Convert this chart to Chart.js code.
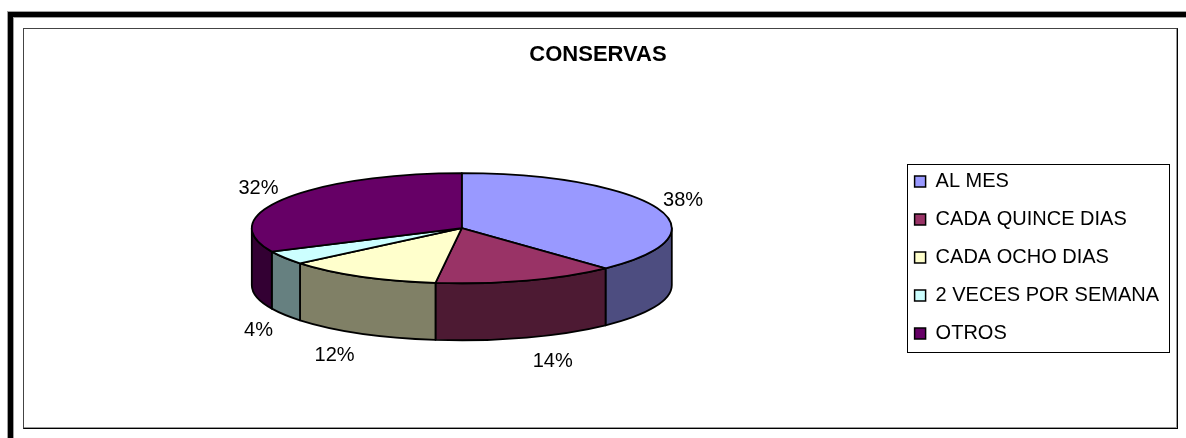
<!DOCTYPE html>
<html>
<head>
<meta charset="utf-8">
<title>CONSERVAS</title>
<script src="https://cdn.jsdelivr.net/npm/chart.js@4"></script>
<style>
  html, body { margin: 0; padding: 0; background: #fff; overflow: hidden; }
  #wrap { position: relative; width: 1186px; height: 438px; }
  .frame1 { position: absolute; left: 7px; top: 11px; width: 1300px; height: 600px;
            border-left: 1px solid #a0a0a0; border-top: 1px solid #a0a0a0; }
  .frame2 { height: 100%; border-left: 5px solid #000; border-top: 5px solid #000; }
  .frame3 { height: 100%; border-left: 1px solid #a0a0a0; border-top: 1px solid #a0a0a0; }
  .plot { position: absolute; left: 23px; top: 28px; width: 1153px; height: 399px;
          border: 1px solid #000; border-left-color: #444; border-top-color: #444;
          box-shadow: inset -1px -1px 0 #9a9a9a; }
  canvas { position: absolute; left: 0; top: 0; }
</style>
</head>
<body>
<div id="wrap">
  <div class="frame1"><div class="frame2"><div class="frame3"></div></div></div>
  <div class="plot"></div>
  <canvas id="pieChart" width="1186" height="438"></canvas>
</div>
<script>
// Data
const categories = ['AL MES', 'CADA QUINCE DIAS', 'CADA OCHO DIAS', '2 VECES POR SEMANA', 'OTROS'];
const shares = [38, 14, 12, 4, 32];
const chartTitle = 'CONSERVAS';

// Look
const topColors = ['#9999ff', '#993366', '#ffffcc', '#ccffff', '#660066'];
const FONT = '"Liberation Sans", Arial, sans-serif';
const PIE_RADIUS = 210;   // horizontal radius of the pie
const TILT = 0.262;       // vertical squash of the top face
const DEPTH = 57;         // thickness of the pie

// Excel draws the side walls at half brightness
function shade(hex) {
    const n = parseInt(hex.slice(1), 16);
    const r = Math.round(((n >> 16) & 255) / 2);
    const g = Math.round(((n >> 8) & 255) / 2);
    const b = Math.round((n & 255) / 2);
    return `rgb(${r}, ${g}, ${b})`;
}

// Draws the arcs the library laid out as a tilted 3D pie
const pie3d = {
    id: 'pie3d',
    beforeDatasetsDraw(chart) {
        const ctx = chart.ctx;
        const arcs = chart.getDatasetMeta(0).data;
        if (!arcs.length) return;
        const cx = arcs[0].x;
        const rx = arcs[0].outerRadius;
        const ry = rx * TILT;
        const cy = arcs[0].y - DEPTH / 2;
        const total = shares.reduce((a, b) => a + b, 0);

        ctx.save();
        ctx.lineWidth = 1.8;
        ctx.strokeStyle = '#000';
        ctx.lineJoin = 'round';

        // side walls, only the front half can be seen
        arcs.forEach((arc, i) => {
            const a = Math.max(arc.startAngle, 0);
            const b = Math.min(arc.endAngle, Math.PI);
            if (b <= a) return;
            ctx.beginPath();
            ctx.ellipse(cx, cy, rx, ry, 0, a, b, false);
            ctx.lineTo(cx + rx * Math.cos(b), cy + ry * Math.sin(b) + DEPTH);
            ctx.ellipse(cx, cy + DEPTH, rx, ry, 0, b, a, true);
            ctx.closePath();
            ctx.fillStyle = shade(topColors[i]);
            ctx.fill();
            ctx.stroke();
        });

        // top faces
        arcs.forEach((arc, i) => {
            ctx.beginPath();
            ctx.moveTo(cx, cy);
            ctx.ellipse(cx, cy, rx, ry, 0, arc.startAngle, arc.endAngle, false);
            ctx.closePath();
            ctx.fillStyle = arc.options.backgroundColor;
            ctx.fill();
            ctx.stroke();
        });

        // percentage labels outside the pie
        ctx.fillStyle = '#000';
        ctx.font = '20px ' + FONT;
        ctx.textAlign = 'center';
        ctx.textBaseline = 'middle';
        arcs.forEach((arc, i) => {
            const mid = (arc.startAngle + arc.endAngle) / 2;
            const c = Math.cos(mid);
            const s = Math.sin(mid);
            const x = cx + rx * c + Math.sign(c) * 26;
            const y = cy + ry * s + (s > 0 ? DEPTH + 5 : 0) + 20 * s;
            ctx.fillText(Math.round(shares[i] / total * 100) + '%', x, y);
        });

        ctx.restore();
        return false;
    },
    afterDraw(chart) {
        // border round the legend
        const boxes = chart.legend.legendHitBoxes;
        if (!boxes || !boxes.length) return;
        const ctx = chart.ctx;
        const left = boxes[0].left - 8;
        const top = boxes[0].top - 8;
        const right = Math.max(...boxes.map(b => b.left + b.width)) + 10;
        const last = boxes[boxes.length - 1];
        const bottom = last.top + last.height + 8;
        ctx.save();
        ctx.strokeStyle = '#000';
        ctx.lineWidth = 1;
        ctx.strokeRect(Math.round(left) + 0.5, Math.round(top) + 0.5,
                       Math.round(right - left), Math.round(bottom - top));
        ctx.restore();
    }
};

const ctx = document.getElementById('pieChart').getContext('2d');
window.pieChart = new Chart(ctx, {
    type: 'pie',
    data: {
        labels: categories,
        datasets: [{
            data: shares,
            backgroundColor: topColors,
            borderColor: '#000',
            borderWidth: 1.5
        }]
    },
    options: {
        responsive: false,
        animation: false,
        radius: PIE_RADIUS,
        layout: { padding: { left: 27, right: 17, top: 28, bottom: 3 } },
        plugins: {
            title: {
                display: true,
                text: chartTitle,
                color: '#000',
                font: { family: FONT, size: 22, weight: 'bold' },
                padding: { top: 14, bottom: 10 }
            },
            legend: {
                position: 'right',
                // empty title only pushes the items down to where Excel put them
                title: {
                    display: true,
                    text: ' ',
                    font: { family: FONT, size: 10 },
                    padding: { top: 20, bottom: 20 }
                },
                labels: {
                    color: '#000',
                    font: { family: FONT, size: 20 },
                    boxWidth: 11,
                    boxHeight: 11,
                    padding: 18
                }
            },
            tooltip: { enabled: false }
        }
    },
    plugins: [pie3d]
});
</script>
</body>
</html>
